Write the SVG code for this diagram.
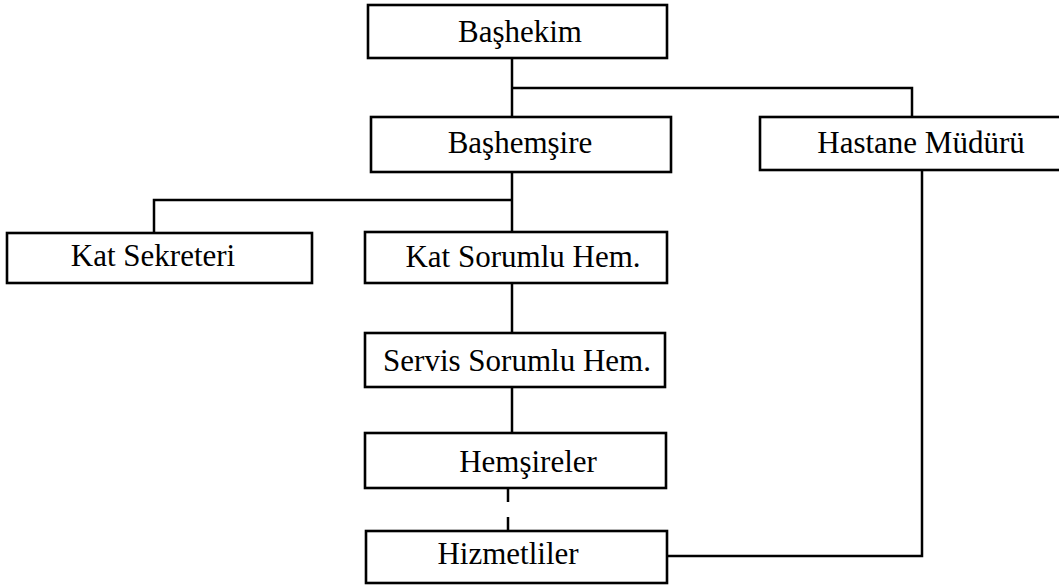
<svg xmlns="http://www.w3.org/2000/svg" width="1059" height="586" viewBox="0 0 1059 586">
  <style>
    .box { fill: #ffffff; stroke: #000000; stroke-width: 2.6; }
    .lbl { font-family: "Liberation Serif", "Times New Roman", serif; font-size: 31px; fill: #000000; text-anchor: middle; }
    .wire { fill: none; stroke: #000000; stroke-width: 2.5; }
  </style>
  <rect x="0" y="0" width="1059" height="586" fill="#ffffff"/>

  <!-- reporting lines -->
  <g id="connectors">
    <path class="wire" d="M512,58 V117"/>
    <path class="wire" d="M512,88 H912 V117"/>
    <path class="wire" d="M512,172 V232"/>
    <path class="wire" d="M512,200 H154 V233"/>
    <path class="wire" d="M512,283 V333"/>
    <path class="wire" d="M512,387 V433"/>
    <path class="wire" d="M508,488 V531" stroke-dasharray="14 15"/>
    <path class="wire" d="M667,556 H922 V170"/>
  </g>

  <g id="bashekim">
    <rect class="box" x="368" y="5" width="299" height="53"/>
    <text class="lbl" x="520" y="42">Başhekim</text>
  </g>

  <g id="bashemsire">
    <rect class="box" x="371" y="117" width="300" height="55"/>
    <text class="lbl" x="520" y="153">Başhemşire</text>
  </g>

  <g id="hastane-muduru">
    <rect class="box" x="760" y="117" width="305" height="53"/>
    <text class="lbl" x="921" y="153">Hastane Müdürü</text>
  </g>

  <g id="kat-sekreteri">
    <rect class="box" x="7" y="233" width="305" height="50"/>
    <text class="lbl" x="153" y="266">Kat Sekreteri</text>
  </g>

  <g id="kat-sorumlu">
    <rect class="box" x="365" y="232" width="302" height="51"/>
    <text class="lbl" x="523" y="267">Kat Sorumlu Hem.</text>
  </g>

  <g id="servis-sorumlu">
    <rect class="box" x="365" y="333" width="300" height="54"/>
    <text class="lbl" x="517" y="371">Servis Sorumlu Hem.</text>
  </g>

  <g id="hemsireler">
    <rect class="box" x="365" y="433" width="301" height="55"/>
    <text class="lbl" x="528" y="472">Hemşireler</text>
  </g>

  <g id="hizmetliler">
    <rect class="box" x="366" y="531" width="301" height="52"/>
    <text class="lbl" x="508" y="564">Hizmetliler</text>
  </g>
</svg>
